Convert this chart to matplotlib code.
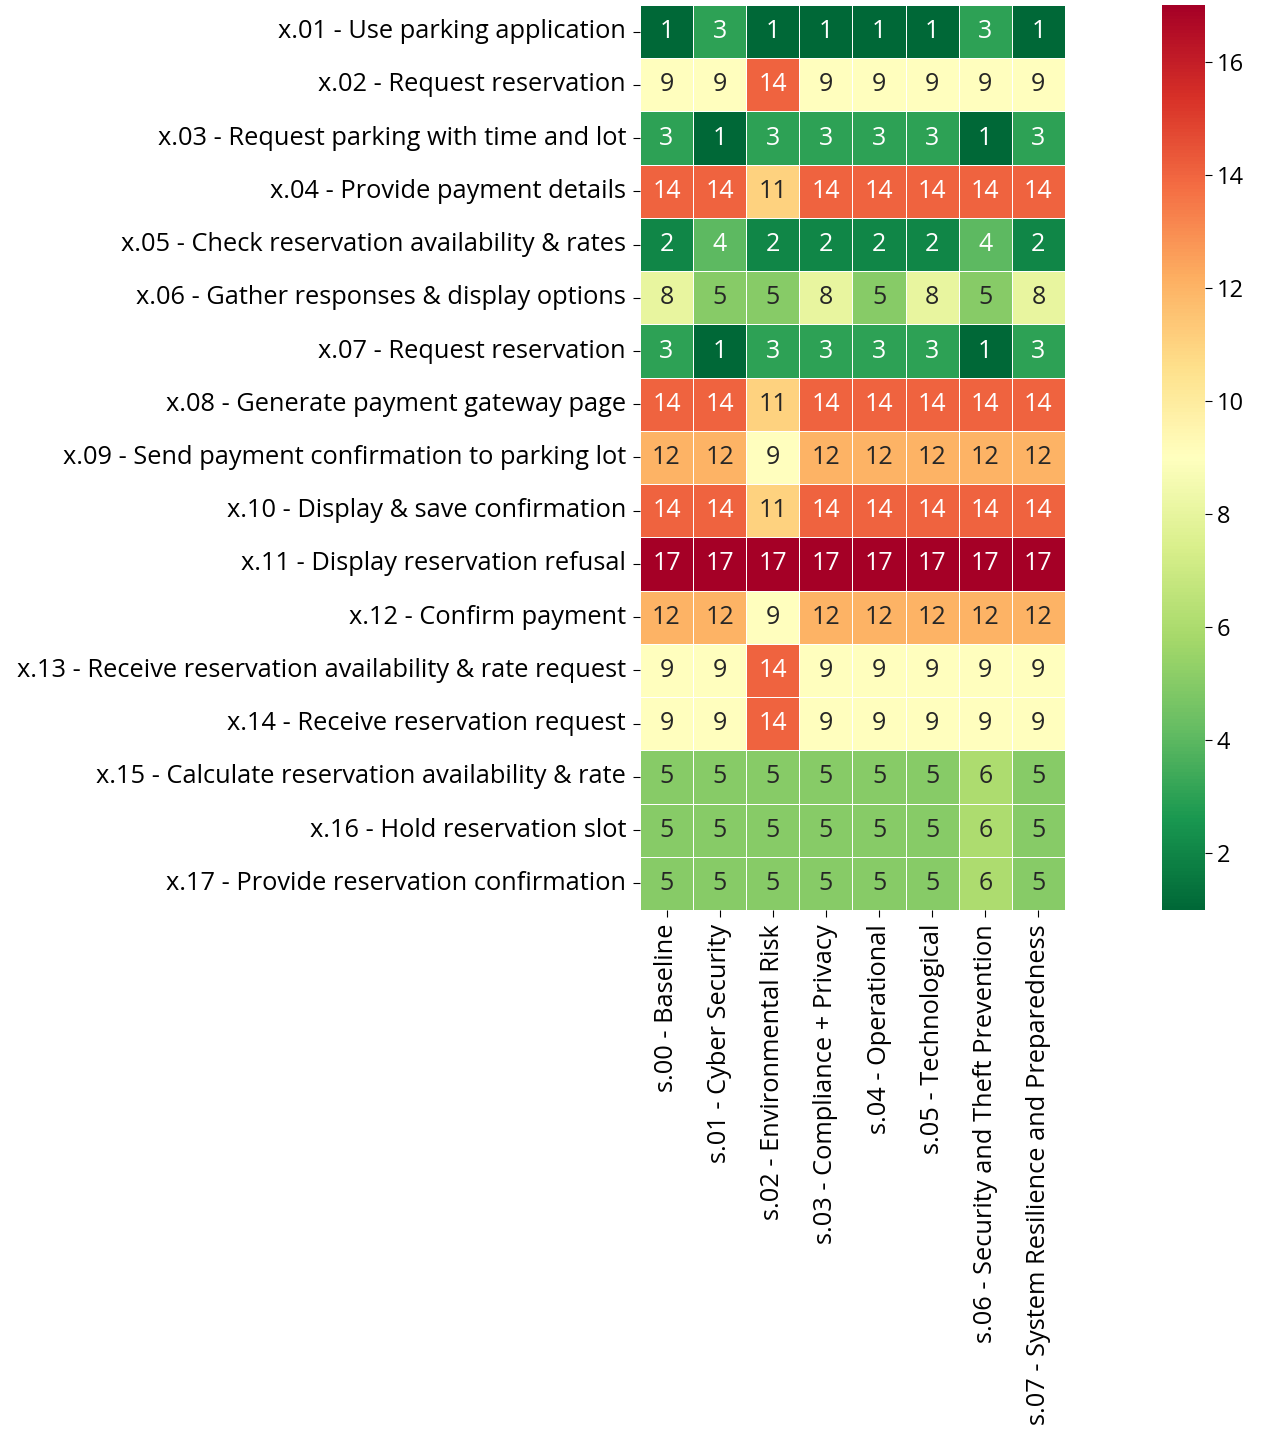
import matplotlib
matplotlib.use("Agg")
import matplotlib.pyplot as plt
import numpy as np
import pandas as pd
import seaborn as sns

steps = [
    "x.01 - Use parking application",
    "x.02 - Request reservation",
    "x.03 - Request parking with time and lot",
    "x.04 - Provide payment details",
    "x.05 - Check reservation availability & rates",
    "x.06 - Gather responses & display options",
    "x.07 - Request reservation",
    "x.08 - Generate payment gateway page",
    "x.09 - Send payment confirmation to parking lot",
    "x.10 - Display & save confirmation",
    "x.11 - Display reservation refusal",
    "x.12 - Confirm payment",
    "x.13 - Receive reservation availability & rate request",
    "x.14 - Receive reservation request",
    "x.15 - Calculate reservation availability & rate",
    "x.16 - Hold reservation slot",
    "x.17 - Provide reservation confirmation",
]

scenarios = [
    "s.00 - Baseline",
    "s.01 - Cyber Security",
    "s.02 - Environmental Risk",
    "s.03 - Compliance + Privacy",
    "s.04 - Operational",
    "s.05 - Technological",
    "s.06 - Security and Theft Prevention",
    "s.07 - System Resilience and Preparedness",
]

ranks = [
    [1, 3, 1, 1, 1, 1, 3, 1],
    [9, 9, 14, 9, 9, 9, 9, 9],
    [3, 1, 3, 3, 3, 3, 1, 3],
    [14, 14, 11, 14, 14, 14, 14, 14],
    [2, 4, 2, 2, 2, 2, 4, 2],
    [8, 5, 5, 8, 5, 8, 5, 8],
    [3, 1, 3, 3, 3, 3, 1, 3],
    [14, 14, 11, 14, 14, 14, 14, 14],
    [12, 12, 9, 12, 12, 12, 12, 12],
    [14, 14, 11, 14, 14, 14, 14, 14],
    [17, 17, 17, 17, 17, 17, 17, 17],
    [12, 12, 9, 12, 12, 12, 12, 12],
    [9, 9, 14, 9, 9, 9, 9, 9],
    [9, 9, 14, 9, 9, 9, 9, 9],
    [5, 5, 5, 5, 5, 5, 6, 5],
    [5, 5, 5, 5, 5, 5, 6, 5],
    [5, 5, 5, 5, 5, 5, 6, 5],
]

plt.rcParams['font.family'] = ['Open Sans', 'DejaVu Sans']

df = pd.DataFrame(np.array(ranks), index=steps, columns=scenarios)

fig = plt.figure(figsize=(12.63, 14.29), dpi=100)
ax = fig.add_axes([0.5067, 0.3632, 0.3365, 0.6333])
cax = fig.add_axes([0.920, 0.3632, 0.034, 0.6333])

sns.heatmap(df, ax=ax, cbar_ax=cax, cmap="RdYlGn_r", annot=True, fmt="d",
            linewidths=0.5, linecolor="white",
            annot_kws={"fontsize": 18})

ax.tick_params(axis="both", labelsize=18.3, length=5, pad=5)
ax.set_yticklabels(steps, rotation=0)
ax.set_xticklabels(scenarios, rotation=90)
cax.tick_params(labelsize=17, length=5)

fig.savefig("out.png", dpi=100)
